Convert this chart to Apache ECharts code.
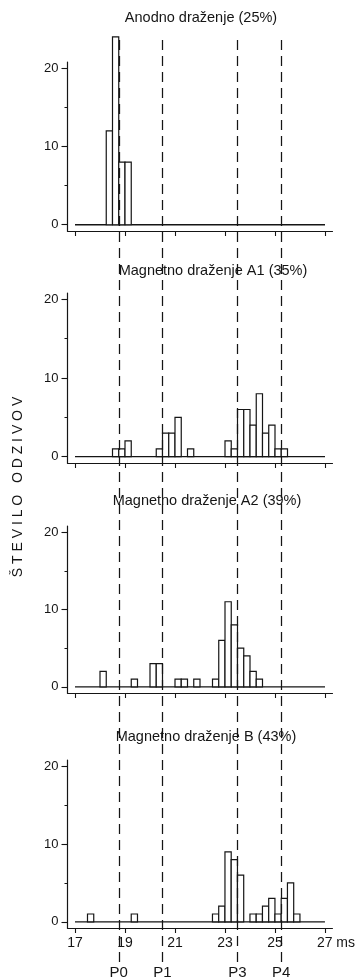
<!DOCTYPE html>
<html>
<head>
<meta charset="utf-8">
<script src="https://cdn.jsdelivr.net/npm/echarts@6/dist/echarts.min.js"></script>
<style>
  html, body { margin: 0; background: #fff; }
  #chart { width: 358px; height: 977px; }
</style>
</head>
<body>
<div id="chart"></div>
<script>
// histogram bins: 0.25 ms wide, given by left edge (ms) and count
const BIN = 0.25;

const titles = [
  'Anodno draženje (25%)',
  'Magnetno draženje A1 (35%)',
  'Magnetno draženje A2 (39%)',
  'Magnetno draženje B (43%)',
];

const anodnoStart = [18.25, 18.5, 18.75, 19];
const anodnoCount = [12, 24, 8, 8];

const a1Start = [18.5, 18.75, 19, 20.25, 20.5, 20.75, 21, 21.5, 23, 23.25, 23.5, 23.75, 24, 24.25, 24.5, 24.75, 25, 25.25];
const a1Count = [1, 1, 2, 1, 3, 3, 5, 1, 2, 1, 6, 6, 4, 8, 3, 4, 1, 1];

const a2Start = [18, 19.25, 20, 20.25, 21, 21.25, 21.75, 22.5, 22.75, 23, 23.25, 23.5, 23.75, 24, 24.25];
const a2Count = [2, 1, 3, 3, 1, 1, 1, 1, 6, 11, 8, 5, 4, 2, 1];

const bStart = [17.5, 19.25, 22.5, 22.75, 23, 23.25, 23.5, 24, 24.25, 24.5, 24.75, 25, 25.25, 25.5, 25.75];
const bCount = [1, 1, 1, 2, 9, 8, 6, 1, 1, 2, 3, 1, 3, 5, 1];

const peakNames = ['P0', 'P1', 'P3', 'P4'];
const peakMs = [18.75, 20.5, 23.5, 25.25];

const xTicks = [17, 19, 21, 23, 25, 27];
const yTicks = [0, 10, 20];
const yMinorTicks = [5, 15];
const yName = 'Š T E V I L O   O D Z I V O V';

const starts = [anodnoStart, a1Start, a2Start, bStart];
const counts = [anodnoCount, a1Count, a2Count, bCount];

// layout (px)
const FONT = '"Liberation Sans", Arial, Helvetica, sans-serif';
const INK = '#151515';
const LEFT = 67.5, RIGHT = 25.5;
const panels = [
  { top: 62,  height: 169, tx: 201, ty: 18 },
  { top: 293, height: 170, tx: 213, ty: 271 },
  { top: 526, height: 167, tx: 207, ty: 501 },
  { top: 760, height: 168, tx: 206, ty: 737 },
];
const overlay = { top: 36, bottom: 977 - 962 };

const chart = echarts.init(document.getElementById('chart'), null, { renderer: 'canvas' });

const grid = panels.map((p) => ({ left: LEFT, right: RIGHT, top: p.top, height: p.height }));
grid.push({ left: LEFT, right: RIGHT, top: overlay.top, bottom: overlay.bottom });

const xAxis = panels.map((p, i) => ({
  gridIndex: i, type: 'value', min: 16.7, max: 27.3,
  axisLine: { show: true, onZero: false, lineStyle: { color: INK, width: 1.2 } },
  axisTick: { show: true, customValues: xTicks, length: 5, lineStyle: { color: INK, width: 1.1 } },
  axisLabel: {
    show: i === panels.length - 1, customValues: xTicks, margin: 8,
    color: INK, fontFamily: FONT, fontSize: 14,
    formatter: (v) => (v === 27 ? '{ms|27 ms}' : String(v)),
    rich: { ms: { padding: [0, 0, 0, 22], fontFamily: FONT, fontSize: 14, color: INK } },
  },
  splitLine: { show: false },
}));
xAxis.push({ gridIndex: 4, type: 'value', min: 16.7, max: 27.3, show: false });

const yAxis = [];
panels.forEach((p, i) => {
  yAxis.push({
    gridIndex: i, type: 'value', min: -0.8, max: 20.8, position: 'left',
    axisLine: { show: true, onZero: false, lineStyle: { color: INK, width: 1.2 } },
    axisTick: { show: true, customValues: yTicks, length: 6, lineStyle: { color: INK, width: 1.1 } },
    axisLabel: { customValues: yTicks, margin: 9, color: INK, fontFamily: FONT, fontSize: 13 },
    splitLine: { show: false },
  });
  yAxis.push({
    gridIndex: i, type: 'value', min: -0.8, max: 20.8, position: 'left', offset: 0,
    axisLine: { show: false, onZero: false },
    axisTick: { show: true, customValues: yMinorTicks, length: 3, lineStyle: { color: INK, width: 1 } },
    axisLabel: { show: false },
    splitLine: { show: false },
  });
});
yAxis.push({ gridIndex: 4, type: 'value', min: 0, max: 1, show: false });

function histRect(params, api) {
  const x0 = api.value(0), n = api.value(1);
  const a = api.coord([x0, 0]);
  const b = api.coord([x0 + BIN, n]);
  return {
    type: 'rect',
    shape: { x: a[0], y: b[1], width: b[0] - a[0], height: a[1] - b[1] },
    style: { fill: '#fff', stroke: INK, lineWidth: 1.2 },
  };
}

const series = [];
panels.forEach((p, i) => {
  series.push({
    type: 'line', xAxisIndex: i, yAxisIndex: 2 * i, silent: true, z: 2,
    data: [[17, 0], [27, 0]], symbol: 'none',
    lineStyle: { color: INK, width: 1.3 },
  });
  series.push({
    type: 'custom', xAxisIndex: i, yAxisIndex: 2 * i, clip: false, z: 4,
    renderItem: histRect,
    encode: { x: 0, y: 1 },
    data: starts[i].map((s, k) => [s, counts[i][k]]),
  });
});
series.push({
  type: 'line', xAxisIndex: 4, yAxisIndex: 8, data: [], silent: true, z: 3,
  markLine: {
    silent: true, symbol: 'none', animation: false,
    lineStyle: { color: INK, width: 1.25, type: [10, 6] },
    label: { show: true, position: 'start', distance: 3, formatter: '{b}',
      color: INK, fontFamily: FONT, fontSize: 15 },
    data: peakMs.map((v, k) => ({ name: peakNames[k], xAxis: v })),
  },
});

const graphic = panels.map((p, i) => ({
  type: 'text', x: p.tx, y: p.ty, z: 10,
  style: { text: titles[i], fill: INK, font: '14.5px ' + FONT, textAlign: 'center', textVerticalAlign: 'middle' },
}));
graphic.push({
  type: 'text', x: 18, y: 487, rotation: Math.PI / 2,
  style: { text: yName, fill: INK, font: '14px ' + FONT, textAlign: 'center', textVerticalAlign: 'middle' },
});

chart.setOption({
  backgroundColor: '#fff',
  animation: false,
  textStyle: { fontFamily: FONT },
  grid, xAxis, yAxis, series, graphic,
});
</script>
</body>
</html>
